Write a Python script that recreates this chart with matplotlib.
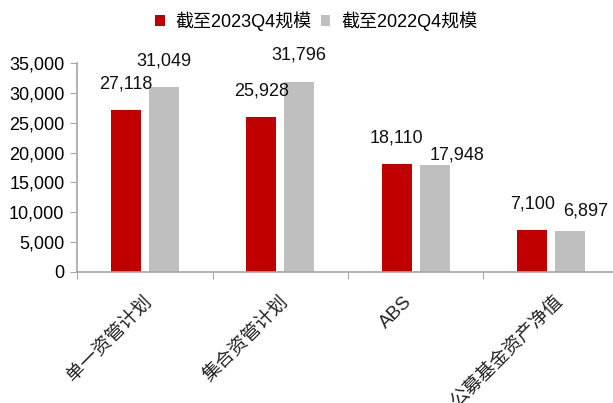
import matplotlib
matplotlib.use("Agg")
import matplotlib.pyplot as plt
import matplotlib.transforms as mtransforms
import numpy as np

plt.rcParams["font.family"] = ["Liberation Sans", "Noto Sans CJK SC", "DejaVu Sans"]

categories = ["单一资管计划", "集合资管计划", "ABS", "公募基金资产净值"]
series_names = ["截至2023Q4规模", "截至2022Q4规模"]
vals_2023 = [27118, 25928, 18110, 7100]
vals_2022 = [31049, 31796, 17948, 6897]
yticks = [0, 5000, 10000, 15000, 20000, 25000, 30000, 35000]

RED = "#C00000"
GREY = "#BFBFBF"
AXIS = "#A6A6A6"

fig = plt.figure(figsize=(6.13, 4.03), dpi=100)
ax = fig.add_axes([77 / 613, 1 - 272 / 403, 542 / 613, (272 - 63) / 403])

x = np.arange(len(categories))
w = 0.22
off = 0.14
b1 = ax.bar(x - off, vals_2023, w, color=RED, label=series_names[0])
b2 = ax.bar(x + off, vals_2022, w, color=GREY, label=series_names[1])

# data labels (a couple nudged to avoid overlap, as in the source)
lab_off_red = [(0, 26), (0, 26), (0, 26), (0, 26)]
lab_off_grey = [(0, 26), (0, 27), (22, 10), (15, 20)]
for bars, offs in ((b1, lab_off_red), (b2, lab_off_grey)):
    for r, (dx, dy) in zip(bars, offs):
        ax.annotate(f"{int(r.get_height()):,}",
                    (r.get_x() + r.get_width() / 2, r.get_height()),
                    xytext=(dx, dy), textcoords="offset pixels",
                    ha="center", va="center", fontsize=13, color="#111111")

ax.set_xlim(-0.5, 3.5)
ax.set_ylim(0, 35000)
ax.set_yticks(yticks)
ax.set_yticklabels([f"{v:,}" for v in yticks], fontsize=13)

# ticks at category boundaries, labels at centres
ax.set_xticks(np.arange(-0.5, 4.0, 1.0))
ax.set_xticklabels([])
ax.set_xticks(x, minor=True)
ax.set_xticklabels(categories, minor=True, rotation=45, ha="right", va="top",
                   fontsize=13.5, color="#222222")
ax.tick_params(axis="x", which="minor", length=0, pad=15)
ax.tick_params(axis="x", which="major", length=5, color=AXIS, direction="out")
ax.tick_params(axis="y", length=5, color=AXIS, direction="out", pad=4)

label_shift = [11, 12, 0, 15]
for lbl, s in zip(ax.get_xticklabels(minor=True), label_shift):
    lbl.set_transform(lbl.get_transform() +
                      mtransforms.Affine2D().translate(s, 0))

for side in ("top", "right"):
    ax.spines[side].set_visible(False)
for side in ("left", "bottom"):
    ax.spines[side].set_color(AXIS)
    ax.spines[side].set_linewidth(1.2)

fig.legend(handles=[b1, b2], labels=series_names, loc="center",
           bbox_to_anchor=(316 / 613, 1 - 21 / 403), ncol=2, frameon=False,
           fontsize=13, handlelength=0.55, handleheight=0.55,
           handletextpad=0.6, columnspacing=0.5)

fig.savefig("out.png", dpi=100)
